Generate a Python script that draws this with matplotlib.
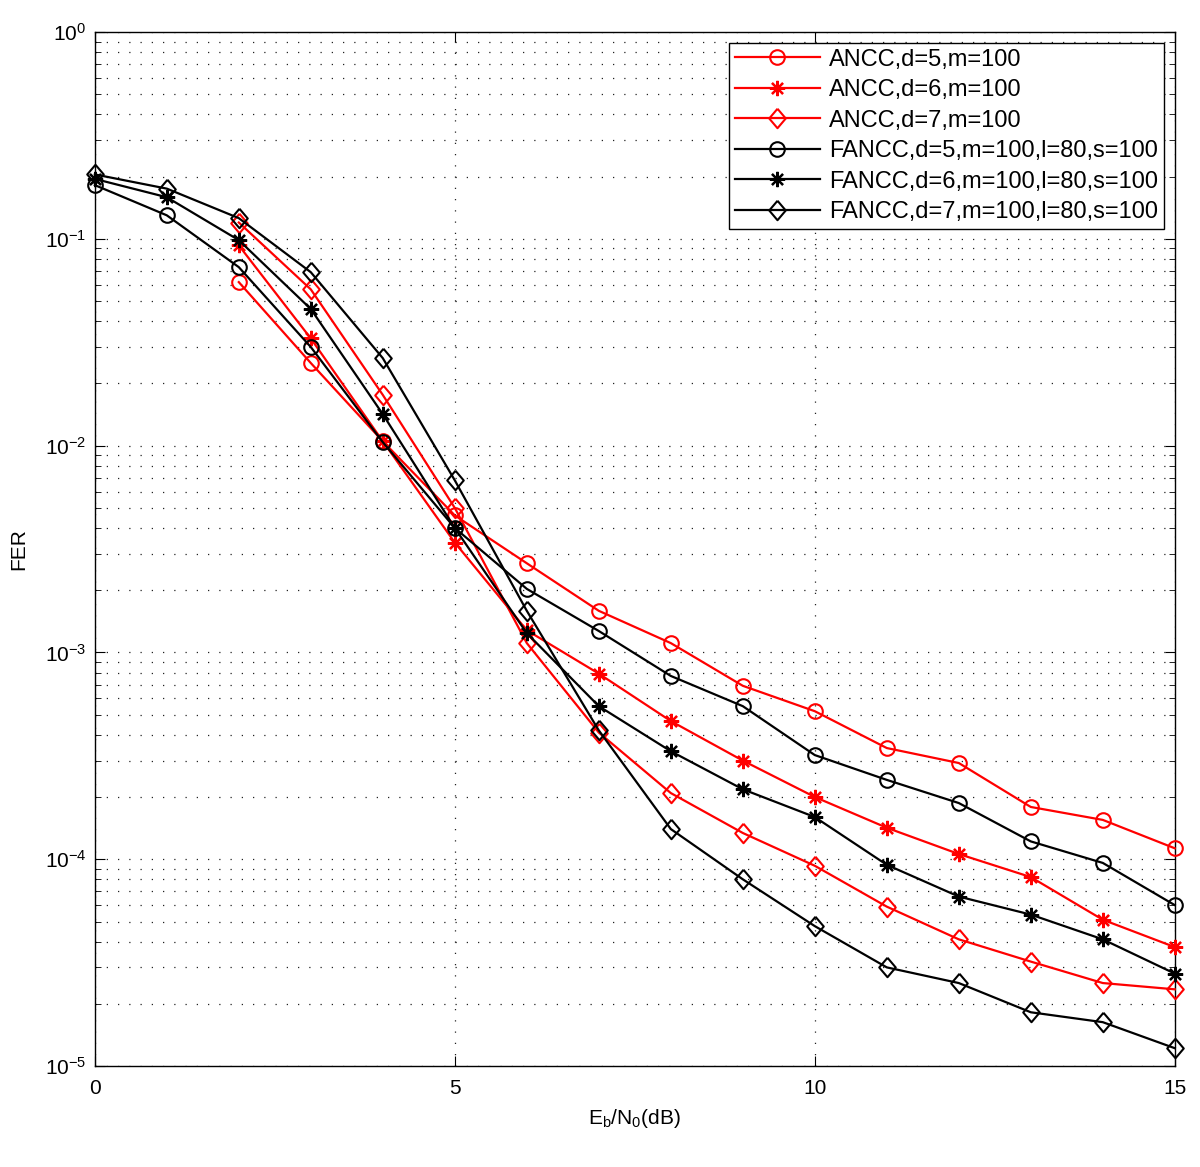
import numpy as np
import matplotlib
matplotlib.use('Agg')
import matplotlib.pyplot as plt
from matplotlib.ticker import LogLocator, NullFormatter

plt.rcParams['font.family'] = ['Liberation Sans', 'DejaVu Sans']
plt.rcParams['mathtext.default'] = 'regular'

# Eb/N0 points (dB)
snr_full = list(range(0, 16))
snr_ancc = list(range(2, 16))

# ANCC curves start at 2 dB
ancc_d5 = [0.0618, 0.0251, 0.0105, 0.0046, 0.0027, 0.00159, 0.00111, 6.9e-4,
           5.2e-4, 3.45e-4, 2.92e-4, 1.79e-4, 1.55e-4, 1.13e-4]
ancc_d6 = [0.093, 0.033, 0.0105, 0.0034, 0.00128, 7.9e-4, 4.66e-4, 3.0e-4,
           2.0e-4, 1.42e-4, 1.06e-4, 8.2e-5, 5.1e-5, 3.76e-5]
ancc_d7 = [0.12, 0.057, 0.0176, 0.0050, 0.00111, 4.1e-4, 2.09e-4, 1.34e-4,
           9.3e-5, 5.9e-5, 4.1e-5, 3.2e-5, 2.52e-5, 2.35e-5]

# FANCC curves over the full range
fancc_d5 = [0.182, 0.130, 0.073, 0.030, 0.0104, 0.0040, 0.00203, 0.00127, 7.7e-4,
            5.5e-4, 3.19e-4, 2.42e-4, 1.87e-4, 1.22e-4, 9.6e-5, 6.0e-5]
fancc_d6 = [0.195, 0.159, 0.0986, 0.0458, 0.0142, 0.0040, 0.00124, 5.5e-4, 3.33e-4,
            2.18e-4, 1.6e-4, 9.4e-5, 6.6e-5, 5.4e-5, 4.1e-5, 2.8e-5]
fancc_d7 = [0.205, 0.175, 0.126, 0.069, 0.0265, 0.0068, 0.00159, 4.2e-4, 1.4e-4,
            8.0e-5, 4.75e-5, 3.0e-5, 2.52e-5, 1.82e-5, 1.63e-5, 1.22e-5]

labels = ['ANCC,d=5,m=100', 'ANCC,d=6,m=100', 'ANCC,d=7,m=100',
          'FANCC,d=5,m=100,l=80,s=100', 'FANCC,d=6,m=100,l=80,s=100',
          'FANCC,d=7,m=100,l=80,s=100']

# matlab style markers: 8-spoke asterisk, wide diamond
asterisk = (8, 2, 0)
diamond = [(0, 1), (0.85, 0), (0, -1), (-0.85, 0), (0, 1)]

fig = plt.figure(figsize=(12, 11.67), dpi=100)
ax = fig.add_axes([0.079, 0.0865, 0.9, 0.886])

series = [
    (snr_ancc, ancc_d5, 'red', 'o'),
    (snr_ancc, ancc_d6, 'red', '*'),
    (snr_ancc, ancc_d7, 'red', 'd'),
    (snr_full, fancc_d5, 'black', 'o'),
    (snr_full, fancc_d6, 'black', '*'),
    (snr_full, fancc_d7, 'black', 'd'),
]
for (x, y, c, m), lab in zip(series, labels):
    if m == '*':
        ax.plot(x, y, color=c, marker=asterisk, markersize=11, lw=1.6,
                markeredgewidth=1.6, label=lab, clip_on=False, zorder=3)
    elif m == 'd':
        ax.plot(x, y, color=c, marker=diamond, markersize=14, lw=1.6,
                markerfacecolor='none', markeredgewidth=1.5, label=lab,
                clip_on=False, zorder=3)
    else:
        ax.plot(x, y, color=c, marker='o', markersize=10.5, lw=1.6,
                markerfacecolor='none', markeredgewidth=1.5, label=lab,
                clip_on=False, zorder=3)

ax.set_yscale('log')
ax.set_xlim(0, 15)
ax.set_ylim(1e-5, 1)
ax.set_xticks([0, 5, 10, 15])
ax.yaxis.set_major_locator(LogLocator(base=10, numticks=10))
ax.yaxis.set_minor_locator(LogLocator(base=10, subs=np.arange(2, 10), numticks=20))
ax.yaxis.set_minor_formatter(NullFormatter())

dots = (0, (1, 8))
ax.grid(True, which='major', axis='both', linestyle=dots, color='#222222', lw=0.9)
ax.grid(True, which='minor', axis='y', linestyle=dots, color='#222222', lw=0.9)

ax.tick_params(which='both', direction='in', top=True, right=True, labelsize=15)
ax.tick_params(which='major', length=7)
ax.tick_params(which='minor', length=4)
ax.tick_params(axis='x', pad=9)
ax.tick_params(axis='y', pad=6)
for s in ax.spines.values():
    s.set_linewidth(1.0)

ax.set_xlabel(r'E$_b$/N$_0$(dB)', fontsize=15, labelpad=7)
ax.set_ylabel('FER', fontsize=15, labelpad=12)

leg = ax.legend(loc='upper right', fontsize=17, frameon=True, fancybox=False,
                edgecolor='black', framealpha=1, borderaxespad=0.45,
                handlelength=3.6, labelspacing=0.36, borderpad=0.25,
                handletextpad=0.4)
leg.get_frame().set_linewidth(1.0)

fig.savefig('out.png', dpi=100)
